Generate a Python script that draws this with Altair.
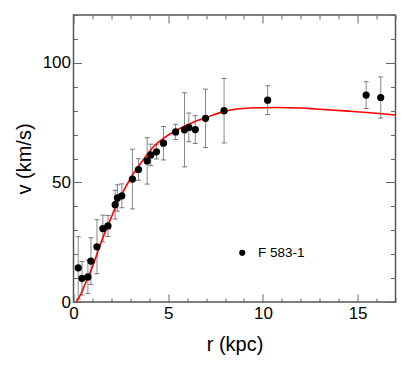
import altair as alt
import pandas as pd

# observed rotation curve
r_obs = [0.25, 0.45, 0.76, 0.92, 1.24, 1.55, 1.82, 2.2, 2.32, 2.55, 3.11, 3.43, 3.89, 4.08, 4.38,
         4.75, 5.39, 5.86, 6.09, 6.43, 6.97, 7.95, 10.25, 15.45, 16.22]
v_obs = [14.3, 9.9, 10.5, 17.1, 23.1, 30.7, 31.8, 40.7, 43.5, 44.4, 51.4, 55.4, 59.0, 61.5, 62.8,
         66.4, 71.1, 72.0, 73.0, 72.1, 76.8, 80.0, 84.4, 86.5, 85.5]
v_err = [13.0, 7.0, 7.0, 9.8, 11.3, 5.6, 4.4, 6.0, 5.5, 5.0, 12.5, 4.5, 9.7, 4.5, 3.0,
         7.0, 3.2, 15.5, 6.0, 5.8, 12.2, 13.5, 6.0, 5.6, 8.6]

# fitted model curve
curve_r = [0.15, 0.45, 0.7, 1.0, 1.25, 1.5, 1.75, 2.0, 2.3, 2.7, 3.1, 3.6, 4.2, 4.8, 5.4, 6.3,
           7.0, 8.0, 9.3, 10.7, 12.0, 12.8, 14.5, 16.0, 17.0]
curve_v = [0.0, 4.3, 9.2, 14.7, 20.3, 25.8, 30.7, 35.5, 41.1, 47.3, 52.9, 58.6, 64.7, 68.7, 71.7, 75.1,
           77.1, 79.8, 81.1, 81.3, 81.1, 80.7, 79.8, 78.9, 78.2]

x_major = [0, 5, 10, 15]
x_minor = [1, 2, 3, 4, 6, 7, 8, 9, 11, 12, 13, 14, 16, 17]
y_major = [0, 50, 100]
y_minor = [10, 20, 30, 40, 60, 70, 80, 90, 110, 120]
galaxy = "F 583-1"

obs = pd.DataFrame({
    "r": r_obs,
    "v": v_obs,
    "lo": [v - e for v, e in zip(v_obs, v_err)],
    "hi": [v + e for v, e in zip(v_obs, v_err)],
    "galaxy": [galaxy] * len(r_obs),
})
fit = pd.DataFrame({"r": curve_r, "v": curve_v})

FONT = "Liberation Sans"
xs = alt.Scale(domain=[0, 17], nice=False, zero=False)
ys = alt.Scale(domain=[0, 120], nice=False, zero=False)


def ax(orient, values, size, labels=False, title=None, title_pad=5):
    kw = dict(orient=orient, values=values, tickSize=size, offset=-size, domain=False,
              grid=False, tickColor="#666", tickWidth=1, ticks=True, labels=labels)
    if labels:
        kw.update(labelFont=FONT, labelFontSize=17, labelColor="black", labelPadding=3,
                  labelFlush=False, labelOverlap=False)
    if title:
        kw.update(title=title, titleFont=FONT, titleFontSize=20, titleFontWeight="normal",
                  titleColor="black", titlePadding=title_pad)
    else:
        kw.update(title=None)
    return alt.Axis(**kw)


bars = alt.Chart(obs).mark_rule(color="#888", strokeWidth=1).encode(
    x=alt.X("r:Q", scale=xs, axis=ax("bottom", x_minor, 4)),
    y=alt.Y("lo:Q", scale=ys, axis=ax("left", y_minor, 4)),
    y2="hi:Q",
)
caps_lo = alt.Chart(obs).mark_tick(color="#444", orient="horizontal", size=5, thickness=1).encode(
    x=alt.X("r:Q", scale=xs, axis=ax("top", x_major, 8)),
    y=alt.Y("lo:Q", scale=ys, axis=ax("right", y_major, 10)),
)
caps_hi = alt.Chart(obs).mark_tick(color="#444", orient="horizontal", size=5, thickness=1).encode(
    x=alt.X("r:Q", scale=xs, axis=ax("top", x_minor, 4)),
    y=alt.Y("hi:Q", scale=ys, axis=ax("right", y_minor, 5)),
)
curve = alt.Chart(fit).mark_line(color="#ff0000", strokeWidth=1.6, interpolate="monotone",
                                 clip=True).encode(
    x=alt.X("r:Q", scale=xs, axis=ax("bottom", x_major, 8, True, "r (kpc)", 13)),
    y=alt.Y("v:Q", scale=ys, axis=ax("left", y_major, 8, True, "v (km/s)", 8)),
)
points = alt.Chart(obs).mark_circle(size=52, opacity=1).encode(
    x=alt.X("r:Q", scale=xs, axis=None),
    y=alt.Y("v:Q", scale=ys, axis=None),
    color=alt.Color(
        "galaxy:N",
        scale=alt.Scale(domain=[galaxy], range=["black"]),
        legend=alt.Legend(
            title=None, orient="none", legendX=162, legendY=231, padding=0,
            symbolType="circle", symbolSize=38, symbolFillColor="black",
            symbolStrokeWidth=0, labelFont=FONT, labelFontSize=13.5,
            labelColor="black", labelOffset=9,
        ),
    ),
)

chart = (
    alt.layer(bars, caps_lo, caps_hi, curve, points)
    .resolve_scale(x="shared", y="shared")
    .resolve_axis(x="independent", y="independent")
    .properties(
        width=322, height=287,
        autosize=alt.AutoSizeParams(type="none"),
        padding={"left": 65.5, "top": 7, "right": 6, "bottom": 62},
    )
    .configure_view(stroke="#555", strokeWidth=1.5)
)

chart.save("out.html", embed_options={"renderer": "svg", "actions": False})
